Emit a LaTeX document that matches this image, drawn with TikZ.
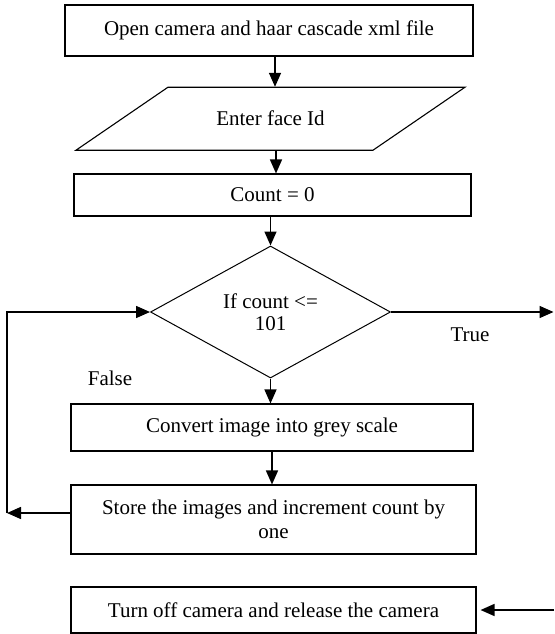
\documentclass[tikz,border=0pt]{standalone}
\usepackage{fontspec}
\setmainfont{Liberation Serif}
\usetikzlibrary{arrows.meta,shapes.geometric}

\tikzset{
  box/.style={draw, line width=1.1pt, rectangle, inner sep=0pt, align=center,
              font=\fontsize{21}{24}\selectfont},
  decision/.style={draw, line width=1pt, diamond, aspect=1.8, inner sep=0pt,
              align=center, font=\fontsize{21}{22}\selectfont},
  lbl/.style={font=\fontsize{21}{24}\selectfont, inner sep=0pt},
  arr/.style={line width=1.5pt, -{Triangle[length=14pt,width=12pt]}},
  link/.style={line width=1.5pt}
}

\begin{document}
\begin{tikzpicture}[x=1pt, y=-1pt]
  \useasboundingbox (0,0) rectangle (554,634);

  % process steps
  \node[box, minimum width=408pt, minimum height=51pt] (open) at (269,30.5)
    {Open camera and haar cascade xml file};
  \node[lbl, minimum width=297pt, minimum height=63pt] (inp) at (270.5,118.5)
    {Enter face Id};
  \draw[line width=1.1pt] (inp.south) ++(-194.5,0) -- ++(297,0) -- ++(92,-63)
    -- ++(-297,0) -- cycle;
  \node[box, minimum width=397pt, minimum height=42pt] (cnt) at (272.5,195)
    {Count = 0};
  \node[decision, minimum width=240pt, minimum height=132pt] (dia) at (270.5,312)
    {If count <=\\101};
  \node[box, minimum width=402pt, minimum height=47pt] (conv) at (272,427.5)
    {Convert image into grey scale};
  \node[box, minimum width=405pt, minimum height=69pt] (store) at (273.5,519.5)
    {Store the images and increment count by\\one};
  \node[box, minimum width=405pt, minimum height=46pt] (fin) at (273.5,610)
    {Turn off camera and release the camera};

  % branch labels
  \node[lbl] (ltrue) at (470,335) {True};
  \node[lbl] (lfalse) at (110,378) {False};

  % loose ends and loop corners
  \coordinate (trueEnd) at (553.5,312);
  \coordinate (finStart) at (554,610);
  \coordinate (loopLow) at (7,513);
  \coordinate (loopHigh) at (7,312);

  % main flow
  \draw[arr] ([xshift=6pt]open.south) -- ([xshift=4.5pt]inp.north);
  \draw[arr] ([xshift=5.5pt]inp.south) -- ([xshift=3.5pt]cnt.north);
  \draw[arr] ([xshift=-2pt]cnt.south) -- (dia.north);
  \draw[arr] (dia.south) -- (dia.south |- conv.north);
  \draw[arr] (conv.south) -- (conv.south |- store.north);

  % loop back
  \draw[arr] ([yshift=6.5pt]store.west) -- (loopLow);
  \draw[arr] (loopLow) -- (loopHigh) -- (dia.west);

  % exit branches
  \draw[arr] (dia.east) -- (trueEnd);
  \draw[arr, shorten >=4pt] (finStart) -- (fin.east);
\end{tikzpicture}
\end{document}
